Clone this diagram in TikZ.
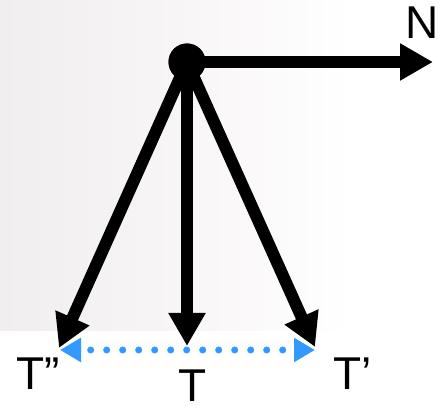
\documentclass[tikz,border=0pt]{standalone}
\usepackage{fontspec}
\setmainfont{Liberation Sans}
\usetikzlibrary{arrows.meta}
\definecolor{bgl}{RGB}{240,238,238}
\definecolor{bgm}{RGB}{248,245,246}
\definecolor{tipblue}{RGB}{51,153,255}
\tikzset{
  vec/.style={line width=12pt, -{Triangle[length=33pt,width=35pt]}},
  swing/.style={tipblue, line width=7pt, line cap=round,
    dash pattern=on 0pt off 16pt, dash phase=5pt,
    {Triangle[length=21pt,width=23pt,line cap=butt]}-{Triangle[length=21pt,width=23pt,line cap=butt]}},
  lbl/.style={font=\fontsize{46}{50}\selectfont, inner sep=0pt, text=black}
}
\begin{document}
\begin{tikzpicture}[x=1pt,y=-1pt]
\useasboundingbox (0,0) rectangle (440,409);
\fill[white] (0,0) rectangle (440,409);
\shade[left color=bgl, right color=white, middle color=bgm, draw=none] (0,0) rectangle (350,331);
\node[circle, fill=black, minimum size=37pt, inner sep=0pt] (O) at (187,62) {};
\coordinate (Ne) at (433,62);
\coordinate (A) at (59,348);
\coordinate (B) at (187,346);
\coordinate (C) at (315,347);
\coordinate (Sl) at (60,350);
\coordinate (Sr) at (315,350);
\draw[swing] (Sl) -- (Sr);
\draw[vec] (O.center) -- (Ne);
\draw[vec] (O.center) -- (A);
\draw[vec] (O.center) -- (B);
\draw[vec] (O.center) -- (C);
\node[circle, fill=black, minimum size=37pt, inner sep=0pt] at (O) {};
\node[lbl] (lN) at (422,23) {N};
\node[lbl] (lA) at (38,374) {T”};
\node[lbl] (lB) at (193,386) {T};
\node[lbl] (lC) at (353,374) {T’};
\end{tikzpicture}
\end{document}
